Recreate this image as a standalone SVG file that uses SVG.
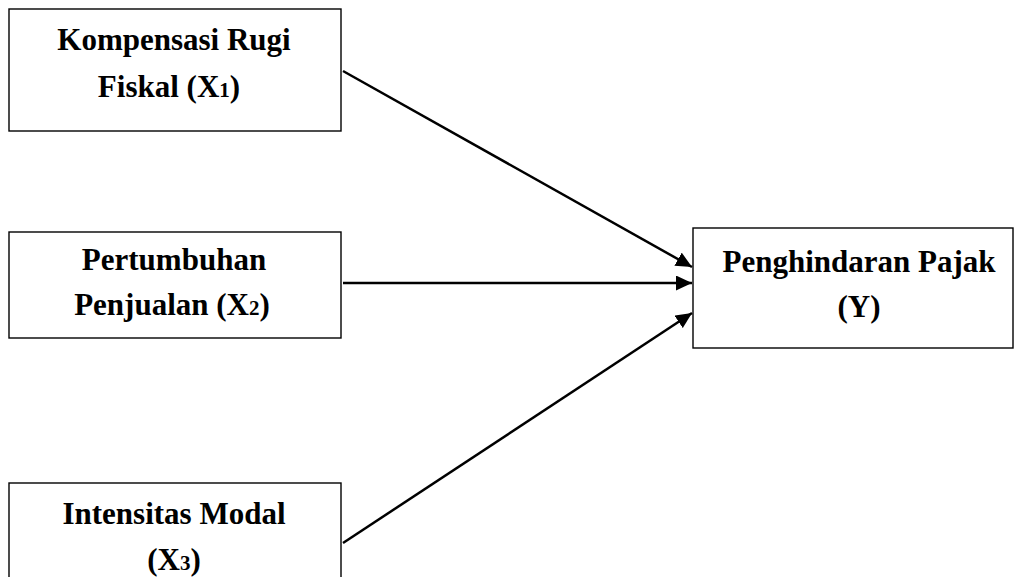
<svg xmlns="http://www.w3.org/2000/svg" width="1014" height="577" viewBox="0 0 1014 577">
<style>
.box{fill:#fff;stroke:#000;stroke-width:1.4}
.t{font-family:"Liberation Serif","Times New Roman",serif;font-weight:bold;font-size:31px;fill:#000;text-anchor:middle}
.sub{font-size:21px}
.c{stroke:#000;stroke-width:2.5;fill:none;marker-end:url(#ah)}
</style>
<defs>
<marker id="ah" viewBox="0 0 16 15" refX="16" refY="7.5" markerUnits="userSpaceOnUse" markerWidth="16" markerHeight="15" orient="auto">
<path d="M0,0 L16,7.5 L0,15 Z" fill="#000"/>
</marker>
</defs>
<rect width="1014" height="577" fill="#fff"/>
<g id="x1">
<rect class="box" x="9" y="9" width="332" height="122"/>
<text class="t" x="174" y="50">Kompensasi Rugi</text>
<text class="t" x="169" y="97">Fiskal (X<tspan class="sub">1</tspan>)</text>
</g>
<g id="x2">
<rect class="box" x="9" y="232" width="332" height="106"/>
<text class="t" x="174" y="270">Pertumbuhan</text>
<text class="t" x="172" y="315">Penjualan (X<tspan class="sub">2</tspan>)</text>
</g>
<g id="x3">
<rect class="box" x="9" y="483" width="332" height="110"/>
<text class="t" x="174" y="524">Intensitas Modal</text>
<text class="t" x="174" y="570">(X<tspan class="sub">3</tspan>)</text>
</g>
<g id="y">
<rect class="box" x="693" y="228" width="320" height="120"/>
<text class="t" x="859" y="272">Penghindaran Pajak</text>
<text class="t" x="859" y="317">(Y)</text>
</g>
<g id="connectors">
<line class="c" x1="343" y1="71" x2="692" y2="267"/>
<line class="c" x1="343" y1="283" x2="692" y2="283"/>
<line class="c" x1="343" y1="543" x2="692" y2="313"/>
</g>
</svg>
